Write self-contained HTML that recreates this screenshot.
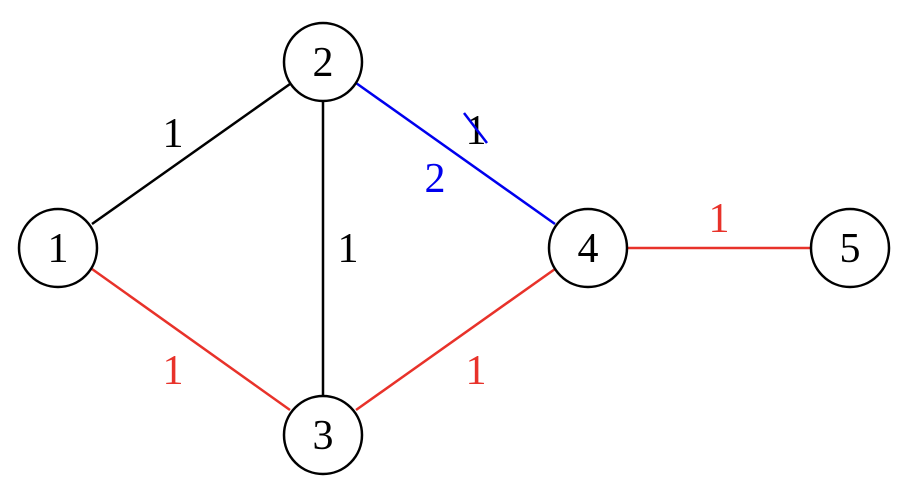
<!DOCTYPE html>
<html><head><meta charset="utf-8"><style>
html,body{margin:0;padding:0;background:#fff;}
svg{display:block;}
text{font-family:"Liberation Serif",serif;font-size:42px;text-anchor:middle;}
</style></head><body>
<svg width="908" height="498" viewBox="0 0 908 498" xmlns="http://www.w3.org/2000/svg">
<g stroke-width="2.5" fill="none">
<line x1="92" y1="224" x2="290" y2="84" stroke="#000"/>
<line x1="323" y1="101" x2="323" y2="396" stroke="#000"/>
<line x1="92" y1="269" x2="290" y2="410" stroke="#e8322a"/>
<line x1="356" y1="410" x2="555" y2="269" stroke="#e8322a"/>
<line x1="627" y1="248" x2="811" y2="248" stroke="#e8322a"/>
<line x1="356" y1="83" x2="555" y2="224" stroke="#0000ee"/>
</g>
<g stroke="#000" stroke-width="2.5" fill="#fff">
<circle cx="58" cy="248" r="39"/>
<circle cx="323" cy="62" r="39"/>
<circle cx="323" cy="435" r="39"/>
<circle cx="588" cy="248" r="39"/>
<circle cx="850" cy="248" r="39"/>
</g>
<g fill="#000">
<text x="58" y="262">1</text>
<text x="323" y="76">2</text>
<text x="323" y="449">3</text>
<text x="588" y="262">4</text>
<text x="850" y="262">5</text>
<text x="173" y="147">1</text>
<text x="348" y="262">1</text>
<text x="476" y="144">1</text>
</g>
<g fill="#e8322a">
<text x="173" y="384">1</text>
<text x="476" y="384">1</text>
<text x="719" y="232">1</text>
</g>
<text x="435" y="192" fill="#0000ee">2</text>
<line x1="464" y1="113" x2="487" y2="143" stroke="#0000ee" stroke-width="2.5"/>
</svg>
</body></html>
